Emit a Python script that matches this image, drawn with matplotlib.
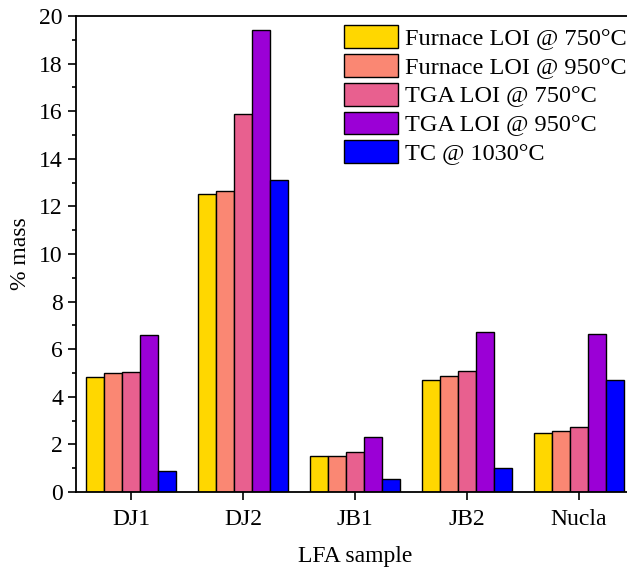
import numpy as np
import matplotlib
matplotlib.use("Agg")
import matplotlib.pyplot as plt
from matplotlib.ticker import MultipleLocator

plt.rcParams['font.family'] = ['Liberation Serif', 'DejaVu Serif']

samples = ["DJ1", "DJ2", "JB1", "JB2", "Nucla"]
series_names = ["Furnace LOI @ 750°C", "Furnace LOI @ 950°C",
                "TGA LOI @ 750°C", "TGA LOI @ 950°C", "TC @ 1030°C"]
furnace_750 = [4.83, 12.51, 1.53, 4.69, 2.48]
furnace_950 = [4.99, 12.63, 1.51, 4.86, 2.58]
tga_750 = [5.03, 15.87, 1.69, 5.10, 2.73]
tga_950 = [6.61, 19.42, 2.30, 6.74, 6.64]
tc_1030 = [0.90, 13.11, 0.53, 1.02, 4.72]
colors = ["#FFD700", "#FA8773", "#E8608F", "#9B00D6", "#0000FF"]

fig = plt.figure(figsize=(6.27, 5.69), dpi=100)
# axes run past the right edge of the picture, as in the original
ax = fig.add_axes([75.5 / 627, 1 - 492 / 569, (634.5 - 75.5) / 627, (492 - 16) / 569])

x = np.arange(len(samples))
w = 0.161
all_series = [furnace_750, furnace_950, tga_750, tga_950, tc_1030]
for i, (vals, name, c) in enumerate(zip(all_series, series_names, colors)):
    ax.bar(x + (i - 2) * w, vals, width=w, color=c, edgecolor="black",
           linewidth=1.0, label=name)

ax.set_xlim(-0.5, 4.5)
ax.set_ylim(0, 20)
ax.set_xticks(x)
ax.set_xticklabels(samples)
ax.yaxis.set_major_locator(MultipleLocator(2))
ax.yaxis.set_minor_locator(MultipleLocator(1))
ax.tick_params(axis="both", which="major", direction="out", length=6,
               width=1.2, labelsize=17)
ax.tick_params(axis="y", which="minor", direction="out", length=3, width=1.2)
ax.tick_params(axis="x", pad=6)
ax.tick_params(axis="y", pad=3)
for s in ax.spines.values():
    s.set_linewidth(1.3)
ax.spines["right"].set_visible(False)

ax.set_xlabel("LFA sample", fontsize=17, labelpad=12)
ax.set_ylabel("% mass", fontsize=17, labelpad=6)

ax.legend(loc="upper left", bbox_to_anchor=(0.48, 0.981), frameon=False,
          fontsize=17.5, handlelength=2.22, handleheight=1.07,
          labelspacing=0.17, handletextpad=0.3, borderaxespad=0, borderpad=0)

fig.savefig("out.png", dpi=100)
